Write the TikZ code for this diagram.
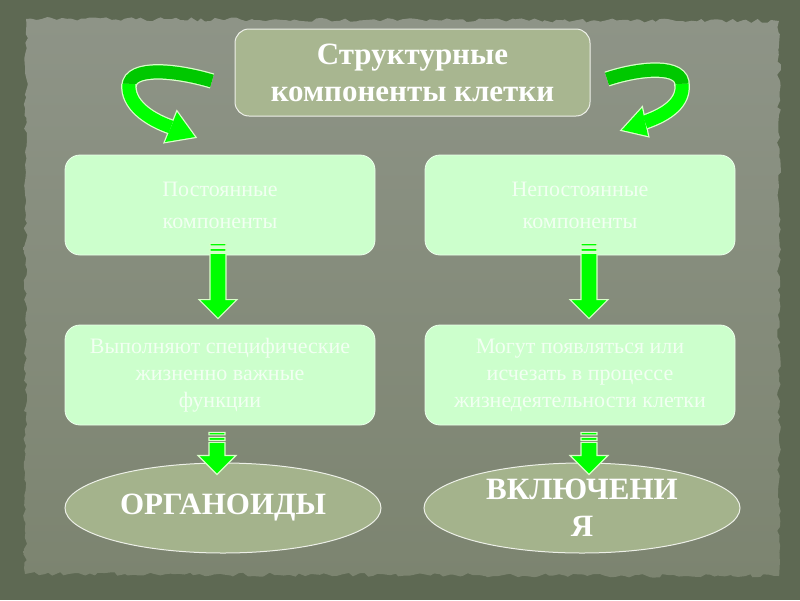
\documentclass[tikz,border=0pt]{standalone}
\usepackage{fontspec}
\setmainfont{Liberation Serif}
\usetikzlibrary{shapes.geometric,decorations.pathmorphing,calc}
\definecolor{outerbg}{HTML}{5E6953}
\definecolor{paneltop}{HTML}{8E9487}
\definecolor{panelbot}{HTML}{7C8470}
\definecolor{titlefill}{HTML}{A8B690}
\definecolor{boxfill}{HTML}{CCFFCC}
\definecolor{boxtext}{HTML}{F2FFF2}
\definecolor{ellfill}{HTML}{A4B38C}
\definecolor{arrgreen}{HTML}{00FF00}
\definecolor{arrdark}{HTML}{00C800}
\definecolor{arredge}{HTML}{D8FFC8}
\newcommand\stripearrow[2]{%
  \path[arrowshape] let \p1=(#1), \p2=(#2) in
    (\x1-8pt,\y1) rectangle (\x1+8pt,\y1-2.5pt)
    (\x1-8pt,\y1-5pt) rectangle (\x1+8pt,\y1-8pt)
    (\x1-8pt,\y1-10pt) -- (\x1+8pt,\y1-10pt) -- (\x1+8pt,\y2+19pt) -- (\x1+19pt,\y2+19pt)
    -- (\x1,\y2) -- (\x1-19pt,\y2+19pt) -- (\x1-8pt,\y2+19pt) -- cycle;}
\begin{document}
\begin{tikzpicture}[x=1pt,y=-1pt,
  titlebox/.style={draw=white!80!titlefill, line width=1pt, fill=titlefill, rounded corners=14pt,
    minimum width=355pt, minimum height=87pt, align=center, text=white, inner sep=0pt,
    font=\fontsize{31}{37}\selectfont\bfseries},
  compbox/.style={draw=white!60!boxfill, line width=0.8pt, fill=boxfill, rounded corners=15pt,
    minimum width=310pt, minimum height=100pt, align=center, text=boxtext, inner sep=0pt},
  toptext/.style={font=\fontsize{22}{32}\selectfont},
  midtext/.style={font=\fontsize{22}{27}\selectfont},
  resultell/.style={ellipse, draw=white!80!ellfill, line width=1pt, fill=ellfill, minimum width=316pt,
    minimum height=90pt, inner sep=0pt, align=center, text=white, font=\fontsize{31}{37}\selectfont\bfseries},
  arrowshape/.style={fill=arrgreen, draw=arredge, line width=1.1pt, line join=miter},
  bandedge/.style={draw=arredge, line width=15.5pt, line cap=butt},
  bandback/.style={draw=arrdark, line width=13pt, line cap=butt},
  bandfront/.style={draw=arrgreen, line width=13pt, line cap=butt}
]
\useasboundingbox (0,0) rectangle (800,600);
\fill[outerbg] (0,0) rectangle (800,600);
\pgfmathsetseed{7}
\shade[top color=paneltop, bottom color=panelbot, decorate,
  decoration={random steps, segment length=5pt, amplitude=2pt}]
  (26,19) -- (779,21) -- (779,576) -- (25,574) -- cycle;

% nodes
\node[titlebox] (title) at (412.5,72.5) {\raisebox{-3pt}{\parbox{350pt}{\centering Структурные\\компоненты клетки}}};
\node[compbox, toptext] (l1) at (220,205) {Постоянные\\компоненты};
\node[compbox, toptext] (r1) at (580,205) {Непостоянные\\компоненты};
\node[compbox, midtext] (l2) at (220,375) {Выполняют специфические\\жизненно важные\\функции};
\node[compbox, midtext] (r2) at (580,375) {Могут появляться или\\исчезать в процессе\\жизнедеятельности клетки};
\node[resultell] (oL) at (223,508) {ОРГАНОИДЫ};
\node[resultell] (oR) at (582,508) {ВКЛЮЧЕНИ\\Я};

% curved arrows
\draw[bandedge] (212,81) .. controls (175,70) and (130,66) .. (129,86);
\draw[bandback] (212,81) .. controls (175,70) and (130,66) .. (129,86);
\draw[arredge, line width=2.5pt, line join=miter] (177,112) -- (195,137) -- (165,142) -- cycle;
\draw[bandedge] (129,84) .. controls (127,104) and (148,119) .. (171,127);
\fill[arrgreen] (177,112) -- (195,137) -- (165,142) -- cycle;
\draw[bandfront] (129,84) .. controls (127,104) and (148,119) .. (171,127);

\draw[bandedge] (607,79) .. controls (640,68) and (684,64) .. (682,86);
\draw[bandback] (607,79) .. controls (640,68) and (684,64) .. (682,86);
\draw[arredge, line width=2.5pt, line join=miter] (642,108) -- (622,130) -- (648,136) -- cycle;
\draw[bandedge] (682,84) .. controls (684,102) and (668,114) .. (645,122);
\fill[arrgreen] (642,108) -- (622,130) -- (648,136) -- cycle;
\draw[bandfront] (682,84) .. controls (684,102) and (668,114) .. (645,122);

% down arrows
\coordinate (d1s) at ($(l1.south)+(-2,-12)$);
\coordinate (d1e) at ($(l2.north)+(-2,-6)$);
\coordinate (d2s) at ($(r1.south)+(9,-12)$);
\coordinate (d2e) at ($(r2.north)+(9,-6)$);
\coordinate (d3s) at ($(l2.south)+(-3,7)$);
\coordinate (d3e) at ($(oL.north)+(-6,12)$);
\coordinate (d4s) at ($(r2.south)+(9,7)$);
\coordinate (d4e) at ($(oR.north)+(7,12)$);
\stripearrow{d1s}{d1e}
\stripearrow{d2s}{d2e}
\stripearrow{d3s}{d3e}
\stripearrow{d4s}{d4e}
\end{tikzpicture}
\end{document}
